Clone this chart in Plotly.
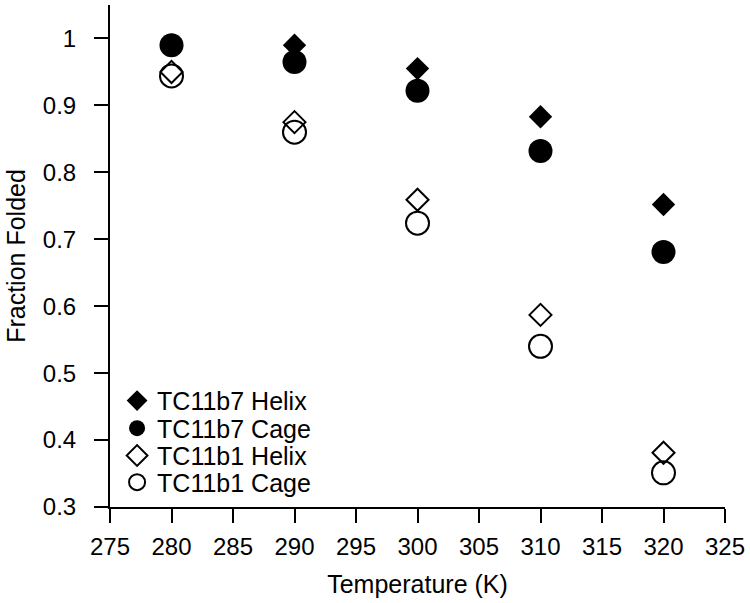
import plotly.graph_objects as go

# Dados
temperatura = [280, 290, 300, 310, 320]
tc11b7_helix = [0.99, 0.99, 0.955, 0.883, 0.752]
tc11b7_cage = [0.99, 0.965, 0.922, 0.832, 0.681]
tc11b1_helix = [0.950, 0.875, 0.759, 0.587, 0.381]
tc11b1_cage = [0.944, 0.860, 0.724, 0.540, 0.351]

series = [
    ('TC11b7 Helix', tc11b7_helix, 'diamond', 18, 0, 'legend'),
    ('TC11b7 Cage', tc11b7_cage, 'circle', 24, 0, 'legend2'),
    ('TC11b1 Helix', tc11b1_helix, 'diamond-open', 17, 2, 'legend3'),
    ('TC11b1 Cage', tc11b1_cage, 'circle-open', 23, 2, 'legend4'),
]

fig = go.Figure()
for nome, valores, simbolo, tamanho, borda, leg in series:
    fig.add_trace(go.Scatter(
        x=temperatura, y=valores, name=nome, mode='markers',
        marker=dict(symbol=simbolo, size=tamanho, color='black',
                    line=dict(color='black', width=borda)),
        legend=leg, showlegend=True
    ))

fonte = dict(family='Liberation Sans, Arial, sans-serif', size=24, color='black')

# Uma legenda por item para controlar o espaçamento entre linhas
leg_base = dict(x=0.0115, xanchor='left', yanchor='middle', bgcolor='rgba(0,0,0,0)',
                font=dict(family=fonte['family'], size=25, color='black'),
                itemsizing='trace')
fig.update_layout(
    showlegend=True,
    legend=dict(leg_base, y=0.2116),
    legend2=dict(leg_base, y=0.1566),
    legend3=dict(leg_base, y=0.1020),
    legend4=dict(leg_base, y=0.0490),
)

fig.update_layout(
    width=750, height=603,
    margin=dict(l=110, r=25, t=5, b=96),
    plot_bgcolor='white', paper_bgcolor='white',
    font=fonte,
    xaxis=dict(
        range=[275, 325], tick0=275, dtick=5, automargin=False,
        showline=True, linecolor='black', linewidth=2,
        ticks='outside', ticklen=14, tickwidth=2, tickcolor='black',
        showgrid=False, zeroline=False, ticklabelstandoff=3,
        title=dict(text='Temperature (K)', font=dict(size=25), standoff=17)
    ),
    yaxis=dict(
        range=[0.3, 1.05], tick0=0.3, dtick=0.1, automargin=False,
        showline=True, linecolor='black', linewidth=2,
        ticks='outside', ticklen=14, tickwidth=2, tickcolor='black',
        showgrid=False, zeroline=False, ticklabelstandoff=13,
        title=dict(text='Fraction Folded', font=dict(size=25), standoff=10)
    ),
)

# Remove a margem padrão da página e a barra de ferramentas
fig.write_html("out.html", config={'displayModeBar': False},
               post_script="document.body.style.margin='0';")
